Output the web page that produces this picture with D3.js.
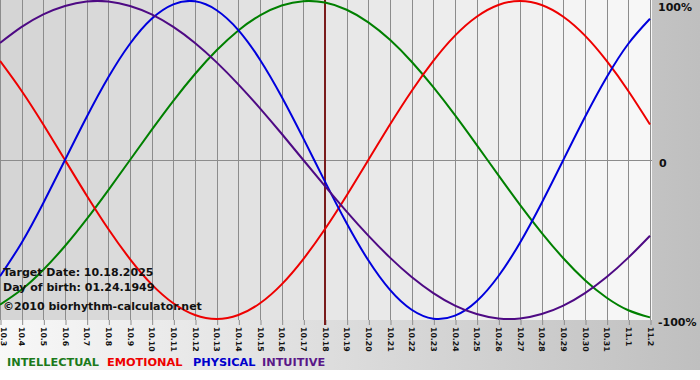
<!DOCTYPE html>
<html>
<head>
<meta charset="utf-8">
<script src="https://cdn.jsdelivr.net/npm/d3@7"></script>
<style>
  html, body { margin: 0; padding: 0; background: #ffffff; }
  svg { display: block; }
  text { font-family: "DejaVu Sans", Verdana, sans-serif; font-weight: bold; }
</style>
</head>
<body>
<svg id="chart" width="700" height="380"></svg>
<script>
// ---- data ----
const days = ["10.3","10.4","10.5","10.6","10.7","10.8","10.9","10.10","10.11","10.12","10.13","10.14","10.15","10.16","10.17","10.18","10.19","10.20","10.21","10.22","10.23","10.24","10.25","10.26","10.27","10.28","10.29","10.30","10.31","11.1","11.2"];
const targetDay = "10.18";
const intellectual = [-0.910,-0.815,-0.690,-0.541,-0.372,-0.189,0,0.189,0.372,0.541,0.690,0.815,0.910,0.972,0.999,0.990,0.945,0.866,0.756,0.618,0.458,0.282,0.095,-0.095,-0.282,-0.458,-0.618,-0.756,-0.866,-0.945,-0.990];
const emotional = [0.623,0.434,0.223,0,-0.223,-0.434,-0.623,-0.782,-0.901,-0.975,-1,-0.975,-0.901,-0.782,-0.623,-0.434,-0.223,0,0.223,0.434,0.623,0.782,0.901,0.975,1,0.975,0.901,0.782,0.623,0.434,0.223];
const physical = [-0.731,-0.520,-0.270,0,0.270,0.520,0.731,0.888,0.979,0.998,0.942,0.817,0.631,0.398,0.136,-0.136,-0.398,-0.631,-0.817,-0.942,-0.998,-0.979,-0.888,-0.731,-0.520,-0.270,0,0.270,0.520,0.731,0.888];
const intuitive = [0.736,0.837,0.916,0.969,0.997,0.997,0.969,0.916,0.837,0.736,0.614,0.476,0.325,0.165,0,-0.165,-0.325,-0.476,-0.614,-0.736,-0.837,-0.916,-0.969,-0.997,-0.997,-0.969,-0.916,-0.837,-0.736,-0.614,-0.476];
const yTicks = [1, 0, -1];
const yTickLabels = ["100%", "0", "-100%"];
const seriesNames = ["INTELLECTUAL", "EMOTIONAL", "PHYSICAL", "INTUITIVE"];
const infoLines = ["Target Date: 10.18.2025", "Day of birth: 01.24.1949", "\u00A92010 biorhythm-calculator.net"];

// ---- styles ----
const colors = ["#008000", "#ee0000", "#0000dd", "#4e0a84"];
const legendColors = ["#1b7a1b", "#ee0000", "#0000cc", "#5a1888"];
const gridColor = "#8c8c8c";

const svg = d3.select("#chart");
const plotLeft = 0, plotRight = 650, plotTop = 1, plotBottom = 319, bandBottom = 320;

const x = d3.scalePoint().domain(days).range([plotLeft, plotRight]);
const y = d3.scaleLinear().domain([-1, 1]).range([plotBottom, plotTop]);

// overall background gradient (white -> gray)
const defs = svg.append("defs");
const bg = defs.append("linearGradient").attr("id", "bgGrad").attr("x1", "0").attr("x2", "1").attr("y1", "0").attr("y2", "0");
bg.append("stop").attr("offset", "0").attr("stop-color", "#f8f8f8");
bg.append("stop").attr("offset", "1").attr("stop-color", "#bfbfbf");
svg.append("rect").attr("x", 0).attr("y", 0).attr("width", 700).attr("height", 370).attr("fill", "url(#bgGrad)");

// plot bands (stepped gradient per day column)
const shade = d3.interpolateRgb("#d4d4d4", "#f8f8f8");
const bandIdx = d3.range(days.length - 1);
svg.append("g").selectAll("rect").data(bandIdx).join("rect")
  .attr("x", i => x(days[i]))
  .attr("y", 0)
  .attr("width", i => x(days[i + 1]) - x(days[i]) + (i === days.length - 2 ? 2 : 0.5))
  .attr("height", bandBottom)
  .attr("fill", i => shade((i + 0.5) / (days.length - 1)));

// vertical grid lines
svg.append("g").selectAll("line").data(days).join("line")
  .attr("x1", d => Math.round(x(d)) + 0.5).attr("x2", d => Math.round(x(d)) + 0.5)
  .attr("y1", 0).attr("y2", bandBottom)
  .attr("stroke", gridColor).attr("stroke-width", 1);

// zero line
svg.append("line")
  .attr("x1", plotLeft).attr("x2", plotRight + 2)
  .attr("y1", Math.round(y(0)) + 0.5).attr("y2", Math.round(y(0)) + 0.5)
  .attr("stroke", gridColor).attr("stroke-width", 1);

// x axis
const xAxis = svg.append("g").attr("transform", `translate(0,${bandBottom})`)
  .call(d3.axisBottom(x).tickSize(5).tickSizeOuter(0));
xAxis.select(".domain").remove();
xAxis.selectAll(".tick line").attr("stroke", gridColor).attr("transform", "translate(0.5,0)");
xAxis.selectAll(".tick text")
  .attr("transform", (d, i) => i === 0 ? "translate(3,0) rotate(90)" : "rotate(90)")
  .attr("x", 7).attr("y", 0).attr("dy", "0.36em")
  .attr("text-anchor", "start")
  .attr("fill", "#111")
  .style("font-size", "7.8px")
  .style("font-family", "\"DejaVu Sans\", Verdana, sans-serif")
  .style("font-weight", "bold");

// target day line
svg.append("line")
  .attr("x1", x(targetDay)).attr("x2", x(targetDay))
  .attr("y1", 0).attr("y2", bandBottom + 5)
  .attr("stroke", "#7a1c1c").attr("stroke-width", 2);

// curves
const series = [intellectual, emotional, physical, intuitive];
const line = d3.line()
  .x((d, i) => x(days[i]))
  .y(d => y(d))
  .curve(d3.curveNatural);
svg.append("g").selectAll("path").data(series).join("path")
  .attr("d", d => line(d))
  .attr("fill", "none")
  .attr("stroke", (d, i) => colors[i])
  .attr("stroke-width", 2)
  .attr("stroke-linejoin", "round");

// right axis labels
svg.append("g").selectAll("text").data(yTicks).join("text")
  .attr("x", (d, i) => i === 1 ? 659 : 658)
  .attr("y", d => Math.max(y(d) + 6.5, 11))
  .attr("fill", "#111")
  .style("font-size", "11px")
  .text((d, i) => yTickLabels[i]);

// info text
const infoY = [276, 291, 310];
svg.append("g").selectAll("text").data(infoLines).join("text")
  .attr("x", 3).attr("y", (d, i) => infoY[i])
  .attr("fill", "#111")
  .style("font-size", "11px")
  .text(d => d);

// legend
const legendX = [7, 107, 193, 262];
svg.append("g").selectAll("text").data(seriesNames).join("text")
  .attr("x", (d, i) => legendX[i]).attr("y", 366)
  .attr("fill", (d, i) => legendColors[i])
  .style("font-size", "11.3px")
  .text(d => d);
</script>
</body>
</html>
